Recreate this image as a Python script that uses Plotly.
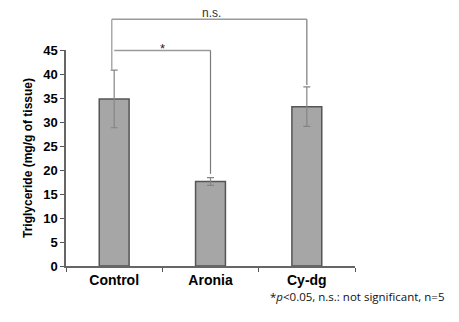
import plotly.graph_objects as go

categories = ["Control", "Aronia", "Cy-dg"]
means = [34.8, 17.6, 33.2]
errors = [6.0, 0.8, 4.1]
y_ticks = [0, 5, 10, 15, 20, 25, 30, 35, 40, 45]
y_max = 45

# significance brackets: (left index, right index, bracket height, left leg bottom, right leg bottom, label)
sig_ns = (0, 2, 51.4, 40.8, 37.7, "n.s.")
sig_star = (0, 1, 44.9, 40.8, 19.2, "*")

fig = go.Figure()
fig.add_trace(go.Bar(
    x=categories, y=means,
    marker=dict(color="#a6a6a6", line=dict(color="#555555", width=1.5)),
    error_y=dict(type="data", array=errors, visible=True, color="#858585", thickness=1.2, width=3.5),
    width=0.31,
))

def py(v):
    return v / y_max

shape_style = dict(xref="x", yref="paper", line=dict(color="#9a9a9a", width=1.5))
leg_style = dict(xref="x", yref="paper", line=dict(color="#7a7a7a", width=1.2))

# n.s. bracket
l, r, h, lb, rb, lab = sig_ns
xl = l - 0.025
fig.add_shape(type="line", x0=xl, x1=r, y0=py(h), y1=py(h), **shape_style)
fig.add_shape(type="line", x0=xl, x1=xl, y0=py(h), y1=py(lb), xref="x", yref="paper",
              line=dict(color="#aaaaaa", width=1.5))
fig.add_shape(type="line", x0=r, x1=r, y0=py(h), y1=py(rb), **leg_style)
fig.add_annotation(x=(l + r) / 2 + 0.01, y=py(h + 1.4), xref="x", yref="paper", text=lab,
                   showarrow=False, font=dict(size=12, color="#333333", family="Liberation Sans"),
                   yanchor="middle")

# * bracket
l, r, h, lb, rb, lab = sig_star
fig.add_shape(type="line", x0=l, x1=r, y0=py(h), y1=py(h), **shape_style)
fig.add_shape(type="line", x0=r, x1=r, y0=py(h), y1=py(rb), **leg_style)
fig.add_annotation(x=(l + r) / 2, y=py(h + 0.4), xref="x", yref="paper", text=lab,
                   showarrow=False, font=dict(size=13, color="#222222", family="Liberation Sans"),
                   yanchor="middle")

fig.add_annotation(x=1.32, y=-0.143, xref="paper", yref="paper", xanchor="right", yanchor="middle",
                   text="*<i>p</i>&lt;0.05, n.s.: not significant, n=5", showarrow=False,
                   font=dict(size=11.5, color="#111111", family="Open Sans"))

fig.update_layout(
    width=459, height=322,
    margin=dict(l=66, r=104, t=50, b=56),
    plot_bgcolor="white", paper_bgcolor="white",
    showlegend=False,
    font=dict(family="Liberation Sans", color="black"),
)
fig.update_xaxes(
    type="category", tickson="boundaries", ticks="outside", ticklen=4, tickcolor="#555555",
    showline=True, linecolor="#666666", linewidth=1.5,
    tickfont=dict(size=14, family="Liberation Sans", color="black", weight="bold"),
    range=[-0.5, 2.5], showgrid=False,
)
fig.update_yaxes(
    range=[0, y_max], tickvals=y_ticks, ticks="outside", ticklen=4, tickcolor="#555555",
    showline=True, linecolor="#666666", linewidth=1.5, showgrid=False, zeroline=False,
    tickfont=dict(size=13, family="Liberation Sans", color="black", weight="bold"),
    title=dict(text="Triglyceride (mg/g of tissue)", standoff=8,
               font=dict(size=12, family="Liberation Sans", color="black", weight="bold")),
)

fig.write_html("out.html")
